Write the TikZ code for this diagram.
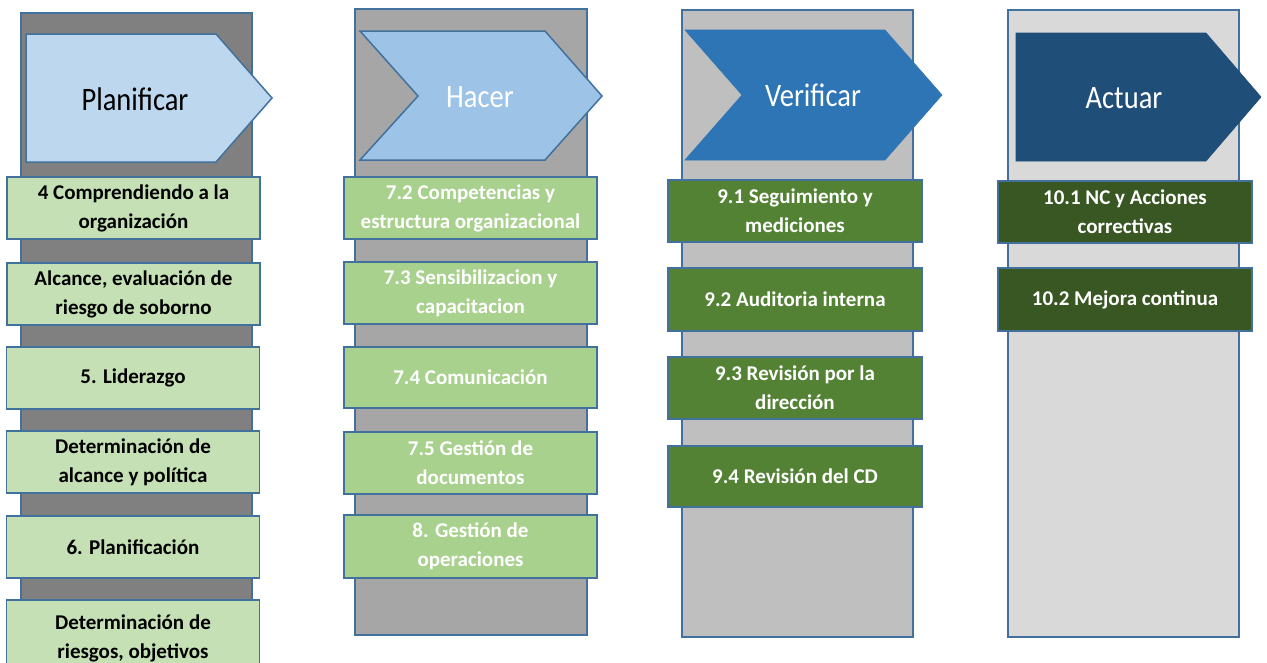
\documentclass[tikz,border=0pt]{standalone}
\usepackage{fontspec}
\setmainfont{Carlito}
\definecolor{bordc}{HTML}{41719C}
\definecolor{bgA}{HTML}{808080}
\definecolor{bgB}{HTML}{A6A6A6}
\definecolor{bgC}{HTML}{BFBFBF}
\definecolor{bgD}{HTML}{D9D9D9}
\definecolor{bxA}{HTML}{C5E0B4}
\definecolor{bxB}{HTML}{A9D18E}
\definecolor{bxC}{HTML}{548235}
\definecolor{bxD}{HTML}{385723}
\definecolor{arA}{HTML}{BDD7EE}
\definecolor{arB}{HTML}{9DC3E6}
\definecolor{arC}{HTML}{2E75B6}
\definecolor{arD}{HTML}{1F4E79}
\tikzset{
  colbg/.style={draw=bordc, line width=1.5pt},
  itembox/.style={draw=bordc, line width=1.5pt, rectangle, align=center, inner sep=0pt,
    font=\bfseries\fontsize{21}{29}\selectfont},
  boxA/.style={itembox, fill=bxA, text=black, minimum width=253pt},
  boxB/.style={itembox, fill=bxB, text=white, minimum width=253pt},
  boxC/.style={itembox, fill=bxC, text=white, minimum width=254pt},
  boxD/.style={itembox, fill=bxD, text=white, minimum width=254pt},
  arrowshape/.style={line width=1.5pt, line join=miter},
  titletext/.style={anchor=base, inner sep=0pt, font=\fontsize{28.5}{34}\selectfont}
}
\newcommand{\ttl}[1]{\scalebox{1}[1.15]{#1}}
\begin{document}
\begin{tikzpicture}[x=1pt,y=-1pt]
\useasboundingbox (0,0) rectangle (1267,662);
\fill[white] (0,0) rectangle (1267,662);
\clip (0,0) rectangle (1267,662);

% column backgrounds
\draw[colbg, fill=bgA] (21,13) rectangle (252,720);
\draw[colbg, fill=bgB] (355,9) rectangle (587,635);
\draw[colbg, fill=bgC] (682,10) rectangle (913,637);
\draw[colbg, fill=bgD] (1008,10) rectangle (1239,637);

% header arrows
\draw[arrowshape, draw=bordc, fill=arA] (26,34) -- (216,34) -- (272,98) -- (216,162) -- (26,162) -- cycle;
\draw[arrowshape, draw=bordc, fill=arB] (360,31) -- (545,31) -- (602,96) -- (545,160) -- (360,160) -- (418,96) -- cycle;
\draw[arrowshape, draw=arC, line width=0.6pt, fill=arC] (685,30) -- (885,30) -- (942,95) -- (885,160) -- (685,160) -- (742,95) -- cycle;
\draw[arrowshape, draw=arD, line width=0.6pt, fill=arD] (1016,33) -- (1206,33) -- (1261,97) -- (1206,161) -- (1016,161) -- cycle;

\node[titletext, text=black] (tP) at (135,110) {\ttl{Planificar}};
\node[titletext, text=white] (tH) at (480,107) {\ttl{Hacer}};
\node[titletext, text=white] (tV) at (813,106) {\ttl{Verificar}};
\node[titletext, text=white] (tA) at (1124,108) {\ttl{Actuar}};

% column 1
\node[boxA, minimum height=62pt] (a1) at (133.5,208) {4 Comprendiendo a la\\organización};
\node[boxA, minimum height=62pt] (a2) at (133.5,294) {Alcance, evaluación de\\riesgo de soborno};
\node[boxA, minimum height=62pt] (a3) at (133,378) {5. Liderazgo};
\node[boxA, minimum height=62pt] (a4) at (133,462) {Determinación de\\alcance y política};
\node[boxA, minimum height=62pt] (a5) at (133,547) {6. Planificación};
\node[boxA, minimum height=76pt] (a6) at (133,638) {Determinación de\\riesgos, objetivos};

% column 2
\node[boxB, minimum height=62pt] (b1) at (470.5,208) {7.2 Competencias y\\estructura organizacional};
\node[boxB, minimum height=62pt] (b2) at (470.5,293) {7.3 Sensibilizacion y\\capacitacion};
\node[boxB, minimum height=61pt] (b3) at (470.5,377.5) {7.4 Comunicación};
\node[boxB, minimum height=62pt] (b4) at (470.5,463) {7.5 Gestión de\\documentos};
\node[boxB, minimum height=63pt] (b5) at (470.5,546.5) {8. Gestión de\\operaciones};

% column 3
\node[boxC, minimum height=62pt] (c1) at (795,211) {9.1 Seguimiento y\\mediciones};
\node[boxC, minimum height=63pt] (c2) at (795,299.5) {9.2 Auditoria interna};
\node[boxC, minimum height=62pt] (c3) at (795,388) {9.3 Revisión por la\\dirección};
\node[boxC, minimum height=61pt] (c4) at (795,476.5) {9.4 Revisión del CD};

% column 4
\node[boxD, minimum height=62pt] (d1) at (1125,212) {10.1 NC y Acciones\\correctivas};
\node[boxD, minimum height=63pt] (d2) at (1125,299.5) {10.2 Mejora continua};
\end{tikzpicture}
\end{document}
